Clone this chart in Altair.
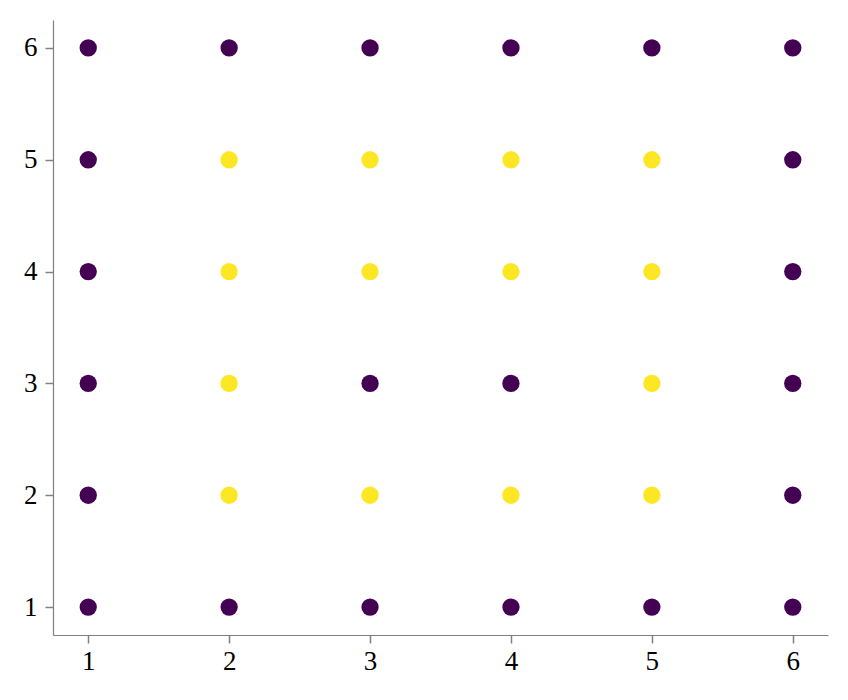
import altair as alt
import pandas as pd

xs = [1, 2, 3, 4, 5, 6]
ys = [1, 2, 3, 4, 5, 6]
# 1 = yellow (inside), 0 = purple
grid = [
    [0, 0, 0, 0, 0, 0],  # y=1
    [0, 1, 1, 1, 1, 0],  # y=2
    [0, 1, 0, 0, 1, 0],  # y=3
    [0, 1, 1, 1, 1, 0],  # y=4
    [0, 1, 1, 1, 1, 0],  # y=5
    [0, 0, 0, 0, 0, 0],  # y=6
]

rows = []
for j, y in enumerate(ys):
    for i, x in enumerate(xs):
        rows.append({"x": x, "y": y, "v": grid[j][i]})
df = pd.DataFrame(rows)

font = "Liberation Serif"
axis_common = dict(
    domainColor="#808080", tickColor="#808080", grid=False,
    labelFont=font, labelFontSize=27, labelColor="black",
    tickSize=8, domainWidth=1.2, tickWidth=1.5, title=None,
    values=[1, 2, 3, 4, 5, 6], format="d",
)

chart = alt.Chart(df).mark_circle(size=300, opacity=1).encode(
    x=alt.X("x:Q", scale=alt.Scale(domain=[0.75, 6.25], nice=False, zero=False),
            axis=alt.Axis(labelPadding=5, **axis_common)),
    y=alt.Y("y:Q", scale=alt.Scale(domain=[0.75, 6.25], nice=False, zero=False),
            axis=alt.Axis(labelPadding=8, **axis_common)),
    color=alt.Color("v:N", scale=alt.Scale(domain=[0, 1], range=["#440154", "#fde725"]), legend=None),
).properties(
    width=775, height=615,
    autosize=alt.AutoSizeParams(type="none"),
    padding={"left": 53, "top": 20, "right": 20, "bottom": 65},
    background="white",
).configure_view(strokeWidth=0, stroke="transparent")

chart.save("out.html", embed_options={"renderer": "svg", "actions": False})
